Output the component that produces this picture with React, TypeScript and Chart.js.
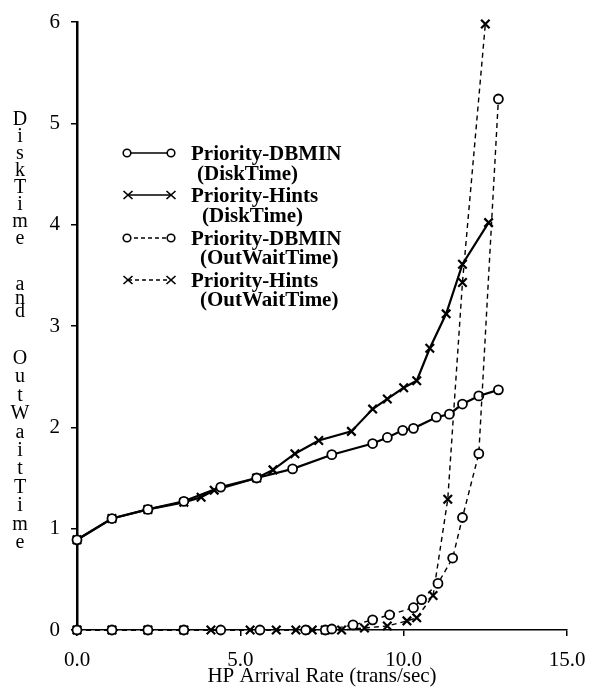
import React, { useEffect, useRef } from 'react';
import { Chart, registerables } from 'chart.js';
Chart.register(...registerables);

// ---- data ----
const dbminDiskX = [0, 1.07, 2.17, 3.27, 4.4, 5.5, 6.6, 7.8, 9.05, 9.5, 9.97, 10.3, 11.0, 11.4, 11.8, 12.3, 12.9];
const dbminDiskY = [0.89, 1.1, 1.19, 1.27, 1.41, 1.5, 1.59, 1.73, 1.84, 1.9, 1.97, 1.99, 2.1, 2.13, 2.23, 2.31, 2.37];

const hintsDiskX = [0, 1.07, 2.17, 3.27, 3.8, 4.2, 5.5, 6.0, 6.67, 7.4, 8.4, 9.05, 9.5, 10.0, 10.4, 10.8, 11.3, 11.8, 12.6];
const hintsDiskY = [0.89, 1.1, 1.19, 1.26, 1.31, 1.38, 1.5, 1.58, 1.74, 1.87, 1.96, 2.18, 2.28, 2.39, 2.46, 2.78, 3.12, 3.61, 4.02];

const dbminWaitX = [0, 1.07, 2.17, 3.27, 4.4, 5.6, 7.0, 7.6, 7.8, 8.45, 9.05, 9.57, 10.3, 10.55, 11.05, 11.5, 11.8, 12.3, 12.9];
const dbminWaitY = [0, 0, 0, 0, 0, 0, 0, 0, 0.01, 0.05, 0.1, 0.15, 0.22, 0.3, 0.46, 0.71, 1.11, 1.74, 5.24];

const hintsWaitX = [0, 1.07, 2.17, 3.27, 4.1, 5.3, 6.1, 6.7, 7.2, 7.6, 8.1, 8.8, 9.5, 10.1, 10.4, 10.9, 11.35, 11.8, 12.5];
const hintsWaitY = [0, 0, 0, 0, 0, 0, 0, 0, 0, 0, 0, 0.02, 0.04, 0.09, 0.12, 0.34, 1.29, 3.43, 5.98];

const xTicks = [0, 5, 10, 15];
const yTicks = [0, 1, 2, 3, 4, 5, 6];
const xTitle = 'HP Arrival Rate (trans/sec)';
const yTitleWords = ['DiskTime', 'and', 'OutWaitTime'];
const legendLabels = [
  ['Priority-DBMIN', '(DiskTime)'],
  ['Priority-Hints', '(DiskTime)'],
  ['Priority-DBMIN', '(OutWaitTime)'],
  ['Priority-Hints', '(OutWaitTime)'],
];

const FONT = '"Liberation Serif", "Times New Roman", serif';

const pts = (xs: number[], ys: number[]) => xs.map((x, i) => ({ x, y: ys[i] }));

export default function App() {
  const ref = useRef<HTMLCanvasElement>(null);
  useEffect(() => {
    document.body.style.margin = '0';
    const common = {
      showLine: true,
      borderColor: '#000',
      pointBorderColor: '#000',
      pointBackgroundColor: '#fff',
      clip: false as any,
    };
    const chart = new Chart(ref.current!, {
      type: 'scatter',
      data: {
        datasets: [
          { ...common, label: 'Priority-DBMIN (OutWaitTime)', data: pts(dbminWaitX, dbminWaitY), borderWidth: 1.4, borderDash: [5, 4], pointStyle: 'circle', pointRadius: 4.5, pointBorderWidth: 1.8 },
          { ...common, label: 'Priority-Hints (OutWaitTime)', data: pts(hintsWaitX, hintsWaitY), borderWidth: 1.4, borderDash: [5, 4], pointStyle: 'crossRot', pointRadius: 6, pointBorderWidth: 2.2 },
          { ...common, label: 'Priority-DBMIN (DiskTime)', data: pts(dbminDiskX, dbminDiskY), borderWidth: 2.2, pointStyle: 'circle', pointRadius: 4.5, pointBorderWidth: 1.8 },
          { ...common, label: 'Priority-Hints (DiskTime)', data: pts(hintsDiskX, hintsDiskY), borderWidth: 2.2, pointStyle: 'crossRot', pointRadius: 6, pointBorderWidth: 2.2 },
        ] as any,
      },
      options: {
        animation: false,
        responsive: false,
        maintainAspectRatio: false,
        layout: { padding: { left: 0, top: 22, right: 22, bottom: 0 } },
        plugins: { legend: { display: false }, tooltip: { enabled: false } },
        scales: {
          x: {
            type: 'linear',
            min: 0,
            max: 15,
            afterBuildTicks: (s: any) => { s.ticks = xTicks.map((v) => ({ value: v })); },
            afterFit: (s: any) => { s.height = 60; s.paddingLeft = 0; s.paddingRight = 0; },
            ticks: {
              callback: (v: any) => Number(v).toFixed(1),
              font: { family: FONT, size: 21 },
              color: '#000',
              padding: 12,
              maxRotation: 0,
              autoSkip: false,
            },
            grid: { drawOnChartArea: false, drawTicks: true, tickLength: 6, color: '#000', lineWidth: 1.5 },
            border: { color: '#000', width: 1.5 },
            title: { display: true, text: xTitle, font: { family: FONT, size: 21 }, color: '#000', padding: { top: 0, bottom: 1 } },
          },
          y: {
            type: 'linear',
            min: 0,
            max: 6,
            afterBuildTicks: (s: any) => { s.ticks = yTicks.map((v) => ({ value: v })); },
            afterFit: (s: any) => { s.width = 77; s.paddingTop = 0; s.paddingBottom = 0; },
            ticks: {
              callback: (v: any) => String(v),
              font: { family: FONT, size: 21 },
              color: '#000',
              padding: 11,
              autoSkip: false,
            },
            grid: { drawOnChartArea: false, drawTicks: true, tickLength: 6, color: '#000', lineWidth: 1.5 },
            border: { color: '#000', width: 2.5 },
          },
        },
      },
    });
    return () => chart.destroy();
  }, []);

  // stacked y-axis title letters
  const wordStarts = [118, 283, 357];
  const wordSpacing = [17, 13.5, 18.4];
  const letters: { ch: string; y: number }[] = [];
  yTitleWords.forEach((w, wi) => {
    w.split('').forEach((ch, i) => letters.push({ ch, y: wordStarts[wi] + i * wordSpacing[wi] }));
  });

  const legendY = [153, 195, 238, 280];
  const sub = [197, 202, 200, 200];

  return (
    <div style={{ position: 'relative', width: 589, height: 690, background: '#fff', overflow: 'hidden' }}>
      <canvas ref={ref} width={589} height={690} style={{ display: 'block', width: 589, height: 690 }} />
      {letters.map((l, i) => (
        <div key={i} style={{ position: 'absolute', left: 10, width: 20, top: l.y - 11, height: 22, lineHeight: '22px', textAlign: 'center', fontFamily: FONT, fontSize: 20, color: '#000' }}>{l.ch}</div>
      ))}
      <svg width={589} height={690} style={{ position: 'absolute', left: 0, top: 0, pointerEvents: 'none' }}>
        {legendY.map((y, i) => {
          const dashed = i >= 2;
          const circle = i % 2 === 0;
          const x1 = circle ? 127 : 128;
          const x2 = 171;
          return (
            <g key={i} stroke="#000" fill="#fff">
              <line x1={x1} y1={y} x2={x2} y2={y} strokeWidth={dashed ? 1.3 : 1.6} strokeDasharray={dashed ? '4 3' : undefined} />
              {circle ? (
                <>
                  <circle cx={x1} cy={y} r={3.8} strokeWidth={1.6} />
                  <circle cx={x2} cy={y} r={3.8} strokeWidth={1.6} />
                </>
              ) : (
                [x1, x2].map((cx, k) => (
                  <g key={k} strokeWidth={1.6}>
                    <line x1={cx - 4.5} y1={y - 4} x2={cx + 4.5} y2={y + 4} />
                    <line x1={cx - 4.5} y1={y + 4} x2={cx + 4.5} y2={y - 4} />
                  </g>
                ))
              )}
            </g>
          );
        })}
      </svg>
      {legendLabels.map((lab, i) => (
        <React.Fragment key={i}>
          <div style={{ position: 'absolute', left: 191, top: legendY[i] - 11, lineHeight: '22px', fontFamily: FONT, fontWeight: 'bold', fontSize: 21, color: '#000', whiteSpace: 'nowrap' }}>{lab[0]}</div>
          <div style={{ position: 'absolute', left: sub[i], top: legendY[i] + (i < 2 ? 20 : 19) - 11, lineHeight: '22px', fontFamily: FONT, fontWeight: 'bold', fontSize: 21, color: '#000', whiteSpace: 'nowrap' }}>{lab[1]}</div>
        </React.Fragment>
      ))}
    </div>
  );
}
